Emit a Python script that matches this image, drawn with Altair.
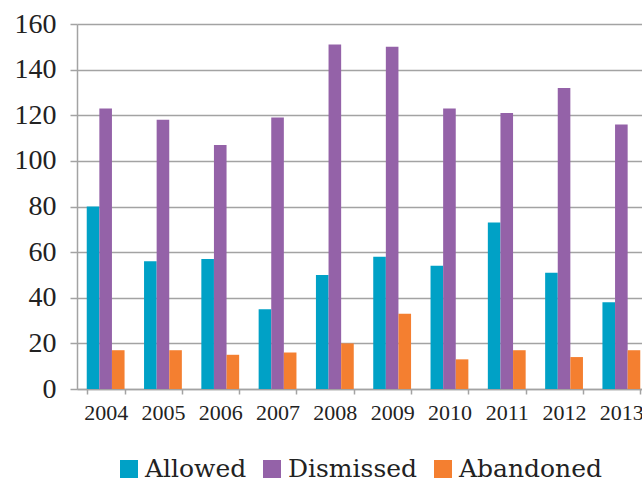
import altair as alt
import pandas as pd

years = ["2004", "2005", "2006", "2007", "2008", "2009", "2010", "2011", "2012", "2013"]
allowed = [80, 56, 57, 35, 50, 58, 54, 73, 51, 38]
dismissed = [123, 118, 107, 119, 151, 150, 123, 121, 132, 116]
abandoned = [17, 17, 15, 16, 20, 33, 13, 17, 14, 17]
series = ["Allowed", "Dismissed", "Abandoned"]
colors = ["#00A1C6", "#9462A8", "#F47F30"]
y_ticks = [0, 20, 40, 60, 80, 100, 120, 140, 160]

rows = []
for i, yr in enumerate(years):
    for s, vals in zip(series, [allowed, dismissed, abandoned]):
        rows.append({"year": yr, "series": s, "value": vals[i]})
df = pd.DataFrame(rows)
leg_df = pd.DataFrame({"series": series})

FONT = "Liberation Serif"
LEG_FONT = "DejaVu Serif"
GRID = "#A3A3A3"
color_scale = alt.Scale(domain=series, range=colors)

bars = alt.Chart(df).mark_bar().encode(
    x=alt.X(
        "year:N", title=None, sort=years,
        scale=alt.Scale(range=[0, 573], paddingInner=0.34, paddingOuter=0.17),
        axis=alt.Axis(labelAngle=0, tickBand="extent", tickSize=5, tickWidth=1.5,
                      tickColor=GRID, domainColor=GRID, domainWidth=1.5,
                      labelFont=FONT, labelFontSize=22, labelColor="#222222",
                      labelPadding=8, grid=False),
    ),
    xOffset=alt.XOffset("series:N", sort=series,
                        scale=alt.Scale(paddingInner=0, paddingOuter=0)),
    y=alt.Y(
        "value:Q", title=None,
        scale=alt.Scale(domain=[0, 160], nice=False),
        axis=alt.Axis(values=y_ticks, tickSize=7, tickWidth=1.5, tickColor=GRID,
                      domainColor=GRID, domainWidth=1.5, gridColor=GRID, gridWidth=1.5,
                      labelFont=FONT, labelFontSize=28, labelColor="#222222",
                      labelPadding=14),
    ),
    color=alt.Color("series:N", sort=series, scale=color_scale, legend=None),
)

# legend layout (pixel positions of the legend entries, relative to the plot area)
legend_x = [52, 195, 366]
legend_y = 445

legend_layers = []
for s, lx in zip(series, legend_x):
    sq = alt.Chart(leg_df).transform_filter(alt.datum.series == s).mark_square(
        size=324, opacity=1, strokeWidth=0
    ).encode(
        x=alt.value(lx), y=alt.value(legend_y),
        color=alt.Color("series:N", scale=color_scale, legend=None),
    )
    tx = alt.Chart(leg_df).transform_filter(alt.datum.series == s).mark_text(
        align="left", baseline="middle", dx=16, dy=0, font=LEG_FONT, fontSize=25,
        color="#222222"
    ).encode(x=alt.value(lx), y=alt.value(legend_y), text="series:N")
    legend_layers += [sq, tx]

chart = alt.layer(bars, *legend_layers).properties(
    width=565, height=365,
    autosize=alt.AutoSizeParams(type="none"),
    padding={"left": 77, "top": 24, "right": 0, "bottom": 92},
).configure_view(stroke=None)

chart.save("out.html", embed_options={"renderer": "svg", "actions": False})
